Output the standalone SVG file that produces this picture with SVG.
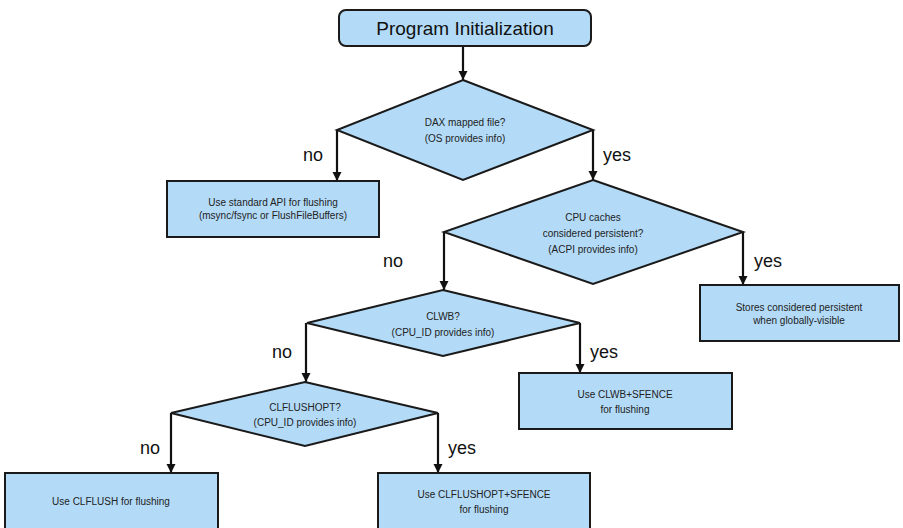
<svg xmlns="http://www.w3.org/2000/svg" width="903" height="528" viewBox="0 0 903 528">
<style>
.shape{fill:#b3dbf8;stroke:#1a1a1a;stroke-width:2}
.t{font-family:"Liberation Sans",Arial,sans-serif;font-size:10px;fill:#222;text-anchor:middle}
.title{font-family:"Liberation Sans",Arial,sans-serif;font-size:19px;fill:#111;text-anchor:middle}
.lbl{font-family:"Liberation Sans",Arial,sans-serif;font-size:18px;fill:#111}
.c{stroke:#111;stroke-width:2.2;fill:none;marker-end:url(#ah)}
</style>
<defs>
<marker id="ah" viewBox="0 0 10 10" refX="10" refY="5" markerWidth="4.2" markerHeight="4.2" orient="auto" markerUnits="strokeWidth">
<path d="M0,0 L10,5 L0,10 z" fill="#111"/>
</marker>
</defs>
<rect width="903" height="528" fill="#fff"/>
<g id="connectors">
<line class="c" x1="463" y1="46" x2="463" y2="80"/>
<polyline class="c" points="337,130 337,181"/>
<polyline class="c" points="593,130 593,180"/>
<polyline class="c" points="444,232 444,290"/>
<polyline class="c" points="743,232 743,285"/>
<polyline class="c" points="306,323 306,382"/>
<polyline class="c" points="580,323 580,373"/>
<polyline class="c" points="171,413 171,473"/>
<polyline class="c" points="438,413 438,473"/>
<text class="lbl" x="303" y="161">no</text>
<text class="lbl" x="603" y="161">yes</text>
<text class="lbl" x="383" y="267">no</text>
<text class="lbl" x="754" y="267">yes</text>
<text class="lbl" x="272" y="358">no</text>
<text class="lbl" x="590" y="358">yes</text>
<text class="lbl" x="140" y="454">no</text>
<text class="lbl" x="448" y="454">yes</text>
</g>
<g id="init">
<rect class="shape" x="339" y="10" width="252" height="36" rx="7"/>
<text class="title" x="465" y="35">Program Initialization</text>
</g>
<g id="dax">
<polygon class="shape" points="463,80 593,130 463,180 337,130"/>
<text class="t" x="465" y="126">DAX mapped file?</text>
<text class="t" x="465" y="142">(OS provides info)</text>
</g>
<g id="standard">
<rect class="shape" x="167" y="181" width="212" height="56"/>
<text class="t" x="273" y="206">Use standard API for flushing</text>
<text class="t" x="273" y="219">(msync/fsync or FlushFileBuffers)</text>
</g>
<g id="cpucache">
<polygon class="shape" points="593,180 743,232 593,284 444,232"/>
<text class="t" x="593" y="221">CPU caches</text>
<text class="t" x="593" y="237">considered persistent?</text>
<text class="t" x="593" y="253">(ACPI provides info)</text>
</g>
<g id="stores">
<rect class="shape" x="700" y="285" width="199" height="56"/>
<text class="t" x="799" y="311">Stores considered persistent</text>
<text class="t" x="799" y="324">when globally-visible</text>
</g>
<g id="clwb">
<polygon class="shape" points="443,290 580,323 443,356 307,323"/>
<text class="t" x="443" y="320">CLWB?</text>
<text class="t" x="443" y="336">(CPU_ID provides info)</text>
</g>
<g id="clwbbox">
<rect class="shape" x="519" y="373" width="213" height="56"/>
<text class="t" x="625" y="398">Use CLWB+SFENCE</text>
<text class="t" x="625" y="413">for flushing</text>
</g>
<g id="clflushopt">
<polygon class="shape" points="305,382 438,413 305,446 171,413"/>
<text class="t" x="305" y="411">CLFLUSHOPT?</text>
<text class="t" x="305" y="426">(CPU_ID provides info)</text>
</g>
<g id="clflush">
<rect class="shape" x="5" y="473" width="213" height="58"/>
<text class="t" x="111" y="505">Use CLFLUSH for flushing</text>
</g>
<g id="clflushoptbox">
<rect class="shape" x="378" y="473" width="212" height="58"/>
<text class="t" x="484" y="498">Use CLFLUSHOPT+SFENCE</text>
<text class="t" x="484" y="513">for flushing</text>
</g>
</svg>
